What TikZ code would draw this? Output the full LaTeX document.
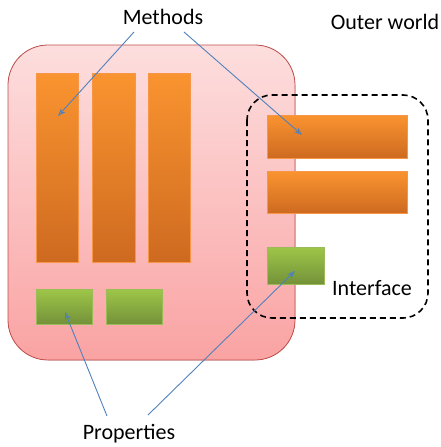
\documentclass[tikz,border=0pt]{standalone}
\usepackage{fontspec}
\setmainfont{Carlito}
\usetikzlibrary{arrows.meta}
\definecolor{pinkT}{RGB}{253,222,222}
\definecolor{pinkB}{RGB}{250,163,163}
\definecolor{pinkD}{RGB}{192,80,77}
\definecolor{orT}{RGB}{250,148,48}
\definecolor{orB}{RGB}{206,106,32}
\definecolor{orD}{RGB}{247,150,70}
\definecolor{grT}{RGB}{158,198,72}
\definecolor{grB}{RGB}{116,146,58}
\definecolor{grD}{RGB}{155,187,89}
\definecolor{arr}{RGB}{79,129,189}
\tikzset{
  body/.style={draw=pinkD, line width=0.8pt, rounded corners=40pt, top color=pinkT, bottom color=pinkB},
  meth/.style={draw=orD, line width=0.6pt, top color=orT, bottom color=orB},
  prop/.style={draw=grD, line width=0.6pt, top color=grT, bottom color=grB},
  iface/.style={draw=black, dashed, line width=1.6pt, dash pattern=on 6pt off 4pt, rounded corners=25pt},
  lbl/.style={font=\fontsize{22}{25}\selectfont, inner sep=0pt, text=black},
  ptr/.style={draw=arr, line width=0.9pt, -{Stealth[length=8pt,width=6pt,open]}}
}
\begin{document}
\begin{tikzpicture}[x=1pt,y=-1pt]
\useasboundingbox (0,0) rectangle (441,447);
\filldraw[body] (8,45) rectangle (295,360);
\draw[meth] (36,73) rectangle (78,262);
\draw[meth] (92,73) rectangle (135,262);
\draw[meth] (148,73) rectangle (190,262);
\draw[prop] (36,289) rectangle (92,324);
\draw[prop] (106,289) rectangle (162,324);
\draw[meth] (267,115) rectangle (407,158);
\draw[meth] (267,171) rectangle (407,213);
\draw[prop] (267,247) rectangle (324,284);
\draw[iface] (247,95) rectangle (428,318);
\node[lbl] (methods) at (163,17) {Methods};
\node[lbl] (outer) at (385,22) {Outer world};
\node[lbl] (interface) at (372,288) {Interface};
\node[lbl] (props) at (129,434) {Properties};
\coordinate (m1) at (58,116);
\coordinate (m2) at (302,135);
\coordinate (p1) at (65,312);
\coordinate (p2) at (295,271);
\coordinate (ms1) at (134,32);
\coordinate (ms2) at (184,32);
\coordinate (ps1) at (107,416);
\coordinate (ps2) at (148,415);
\draw[ptr] (ms1) -- (m1);
\draw[ptr] (ms2) -- (m2);
\draw[ptr] (ps1) -- (p1);
\draw[ptr] (ps2) -- (p2);
\end{tikzpicture}
\end{document}
